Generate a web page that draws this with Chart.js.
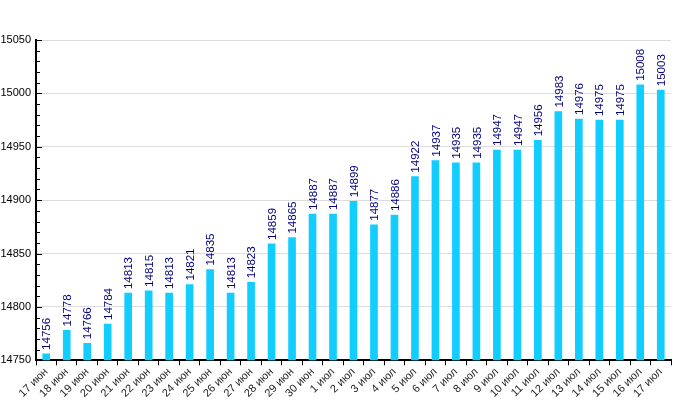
<!DOCTYPE html>
<html>
<head>
<meta charset="utf-8">
<script src="https://cdn.jsdelivr.net/npm/chart.js@4/dist/chart.umd.min.js"></script>
<style>
    body { margin: 0; background: #fff; }
    canvas { display: block; }
</style>
</head>
<body>
<canvas id="chart" width="700" height="400"></canvas>
<script>
// -- Chart data --
const days = [
    '17 июн', '18 июн', '19 июн', '20 июн', '21 июн', '22 июн', '23 июн', '24 июн',
    '25 июн', '26 июн', '27 июн', '28 июн', '29 июн', '30 июн',
    '1 июл', '2 июл', '3 июл', '4 июл', '5 июл', '6 июл', '7 июл', '8 июл', '9 июл',
    '10 июл', '11 июл', '12 июл', '13 июл', '14 июл', '15 июл', '16 июл', '17 июл'
];
const values = [
    14756, 14778, 14766, 14784, 14813, 14815, 14813, 14821,
    14835, 14813, 14823, 14859, 14865, 14887,
    14887, 14899, 14877, 14886, 14922, 14937, 14935, 14935, 14947,
    14947, 14956, 14983, 14976, 14975, 14975, 15008, 15003
];
const yMin = 14750;
const yMax = 15050;
const yStep = 50;
const yMinorStep = 10;

const fontFamily = 'Arial, "Liberation Sans", sans-serif';

// Draws value labels vertically above each bar
const valueLabels = {
    id: 'valueLabels',
    afterDatasetsDraw(chart) {
        const ctx = chart.ctx;
        const meta = chart.getDatasetMeta(0);
        ctx.save();
        ctx.font = '11.5px ' + fontFamily;
        ctx.fillStyle = '#000080';
        ctx.textAlign = 'left';
        ctx.textBaseline = 'middle';
        meta.data.forEach((bar, i) => {
            ctx.save();
            ctx.translate(bar.x + 1, bar.y - 4);
            ctx.rotate(-Math.PI / 2);
            ctx.fillText(values[i], 0, 0);
            ctx.restore();
        });
        ctx.restore();
    }
};

// Inner tick marks on the y axis (major + minor)
const innerTicks = {
    id: 'innerTicks',
    afterDraw(chart) {
        const ctx = chart.ctx;
        const y = chart.scales.y;
        const left = chart.chartArea.left;
        ctx.save();
        ctx.strokeStyle = '#000';
        ctx.lineWidth = 1;
        for (let v = yMin; v <= yMax; v += yMinorStep) {
            const py = Math.round(y.getPixelForValue(v)) + 0.5;
            const len = (v % yStep === 0) ? 6 : 4;
            ctx.beginPath();
            ctx.moveTo(left, py);
            ctx.lineTo(left + len, py);
            ctx.stroke();
        }
        ctx.restore();
    }
};

new Chart(document.getElementById('chart'), {
    type: 'bar',
    data: {
        labels: days,
        datasets: [{
            data: values,
            backgroundColor: '#12CDFF',
            barThickness: 7,
            categoryPercentage: 1,
            barPercentage: 1
        }]
    },
    options: {
        responsive: false,
        animation: false,
        layout: {
            padding: { top: 40, right: 29, left: 0, bottom: 0 }
        },
        plugins: {
            legend: { display: false },
            tooltip: { enabled: false }
        },
        scales: {
            x: {
                grid: {
                    offset: true,
                    drawOnChartArea: false,
                    tickLength: 5,
                    color: '#000'
                },
                border: { color: '#000', width: 2 },
                ticks: {
                    minRotation: 45,
                    maxRotation: 45,
                    autoSkip: false,
                    color: '#222',
                    padding: 0,
                    font: { family: fontFamily, size: 11 }
                }
            },
            y: {
                min: yMin,
                max: yMax,
                afterFit: (scale) => { scale.width = 36; },
                grid: {
                    color: '#dcdcdc',
                    drawTicks: false
                },
                border: { color: '#000', width: 2 },
                ticks: {
                    stepSize: yStep,
                    color: '#000',
                    padding: 5,
                    font: { family: fontFamily, size: 11 },
                    callback: (v) => String(v)
                }
            }
        }
    },
    plugins: [valueLabels, innerTicks]
});
</script>
</body>
</html>
